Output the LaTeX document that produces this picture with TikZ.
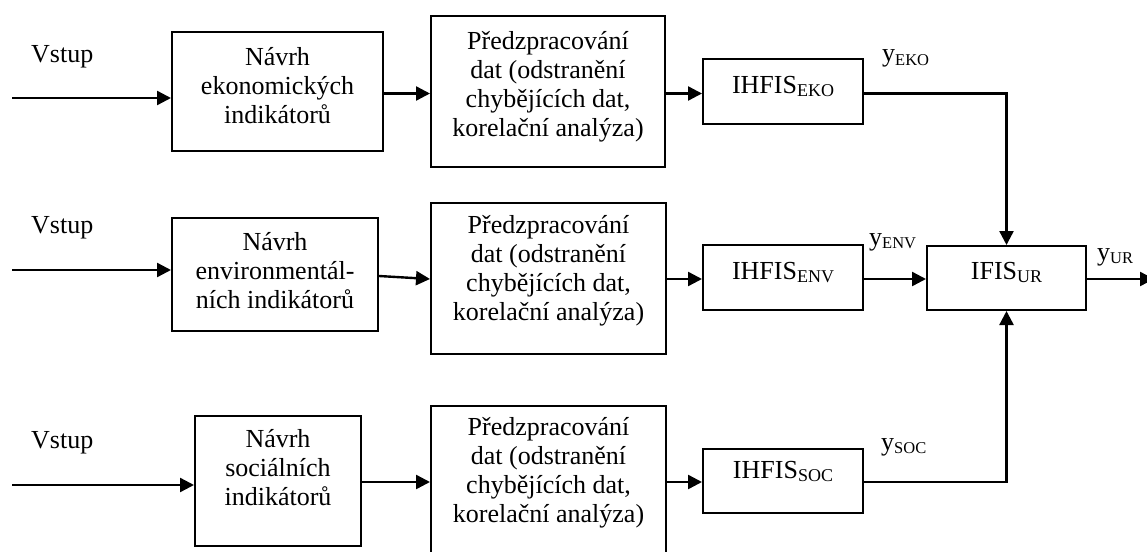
\documentclass[tikz,border=0pt]{standalone}
\usepackage{fontspec}
\setmainfont{Liberation Serif}
\usetikzlibrary{arrows.meta,calc}
\newcommand\mainfs{\fontsize{26}{29}\selectfont}
\newcommand\lowsub[1]{\raisebox{-3pt}{\fontsize{18}{18}\selectfont #1}}
\newcommand\ysub[1]{\raisebox{-3pt}{\fontsize{16.5}{18}\selectfont #1}}
\newcommand\mylines[1]{\begin{tabular}[t]{@{}c@{}}#1\end{tabular}}
\begin{document}
\begin{tikzpicture}[x=1pt,y=-1pt,
  box/.style={draw, line width=2pt, inner sep=0pt, rectangle},
  lbl/.style={anchor=base, inner sep=0pt, font=\mainfs},
  tag/.style={anchor=base west, inner sep=0pt, font=\mainfs},
  arr/.style={line width=2.4pt, -{Triangle[length=14pt,width=14pt]}},
  ln/.style={line width=2.4pt}]
\clip (0,0) rectangle (1147,551);
% boxes
\node[box, minimum width=211pt, minimum height=119pt] (A1) at (277.5,91.5) {};
\node[box, minimum width=206pt, minimum height=113pt] (A2) at (275,274.5) {};
\node[box, minimum width=166pt, minimum height=130pt] (A3) at (278,481) {};
\node[box, minimum width=234pt, minimum height=151pt] (P1) at (548,91.5) {};
\node[box, minimum width=235pt, minimum height=151pt] (P2) at (548.5,278.5) {};
\node[box, minimum width=235pt, minimum height=151pt] (P3) at (548.5,481.5) {};
\node[box, minimum width=160pt, minimum height=65pt] (I1) at (783,91.5) {};
\node[box, minimum width=160pt, minimum height=65pt] (I2) at (783,277.5) {};
\node[box, minimum width=160pt, minimum height=64pt] (I3) at (783,481) {};
\node[box, minimum width=159pt, minimum height=64pt] (IF) at (1006.5,278) {};
% box texts
\node[lbl] (tA1) at (277.5,65) {\mylines{Návrh\\ekonomických\\indikátorů}};
\node[lbl] (tA2) at (275,250) {\mylines{Návrh\\environmentál-\\ních indikátorů}};
\node[lbl] (tA3) at (278,447) {\mylines{Návrh\\sociálních\\indikátorů}};
\node[lbl] (tP1) at (548,49) {\mylines{Předzpracování\\dat (odstranění\\chybějících dat,\\korelační analýza)}};
\node[lbl] (tP2) at (548.5,233) {\mylines{Předzpracování\\dat (odstranění\\chybějících dat,\\korelační analýza)}};
\node[lbl] (tP3) at (548.5,435) {\mylines{Předzpracování\\dat (odstranění\\chybějících dat,\\korelační analýza)}};
\node[lbl] (tI1) at (783,93) {IHFIS\lowsub{EKO}};
\node[lbl] (tI2) at (783,279) {IHFIS\lowsub{ENV}};
\node[lbl] (tI3) at (783,478) {IHFIS\lowsub{SOC}};
\node[lbl] (tIF) at (1006.5,279) {IFIS\lowsub{UR}};
% free labels
\node[tag] (v1) at (31,63) {Vstup};
\node[tag] (v2) at (31,233) {Vstup};
\node[tag] (v3) at (31,448) {Vstup};
\node[tag] (y1) at (882,62) {y\ysub{EKO}};
\node[tag] (y2) at (869,245) {y\ysub{ENV}};
\node[tag] (y3) at (881,450) {y\ysub{SOC}};
\node[tag] (y4) at (1097,260) {y\ysub{UR}};
% row coordinates
\coordinate (s1) at (12,98);
\coordinate (s2) at (12,270);
\coordinate (s3) at (12,485);
\coordinate (r1) at (0,93.5);
\coordinate (r2) at (0,279);
\coordinate (r3) at (0,482);
\coordinate (a2s) at (0,276);
\coordinate (out) at (1154,279);
% connectors
\draw[arr] (s1) -- (s1 -| A1.west);
\draw[arr] (s2) -- (s2 -| A2.west);
\draw[arr] (s3) -- (s3 -| A3.west);
\draw[arr] (A1.east |- r1) -- (P1.west |- r1);
\draw[arr] (A2.east |- a2s) -- (P2.west |- r2);
\draw[arr] (A3.east |- r3) -- (P3.west |- r3);
\draw[arr] (P1.east |- r1) -- (I1.west |- r1);
\draw[arr] (P2.east |- r2) -- (I2.west |- r2);
\draw[arr] (P3.east |- r3) -- (I3.west |- r3);
\draw[arr] (I1.east |- r1) -| (IF.north);
\draw[arr] (I2.east |- r2) -- (IF.west |- r2);
\draw[arr] (I3.east |- r3) -| (IF.south);
\draw[arr] (IF.east |- r2) -- (out);
\end{tikzpicture}
\end{document}
